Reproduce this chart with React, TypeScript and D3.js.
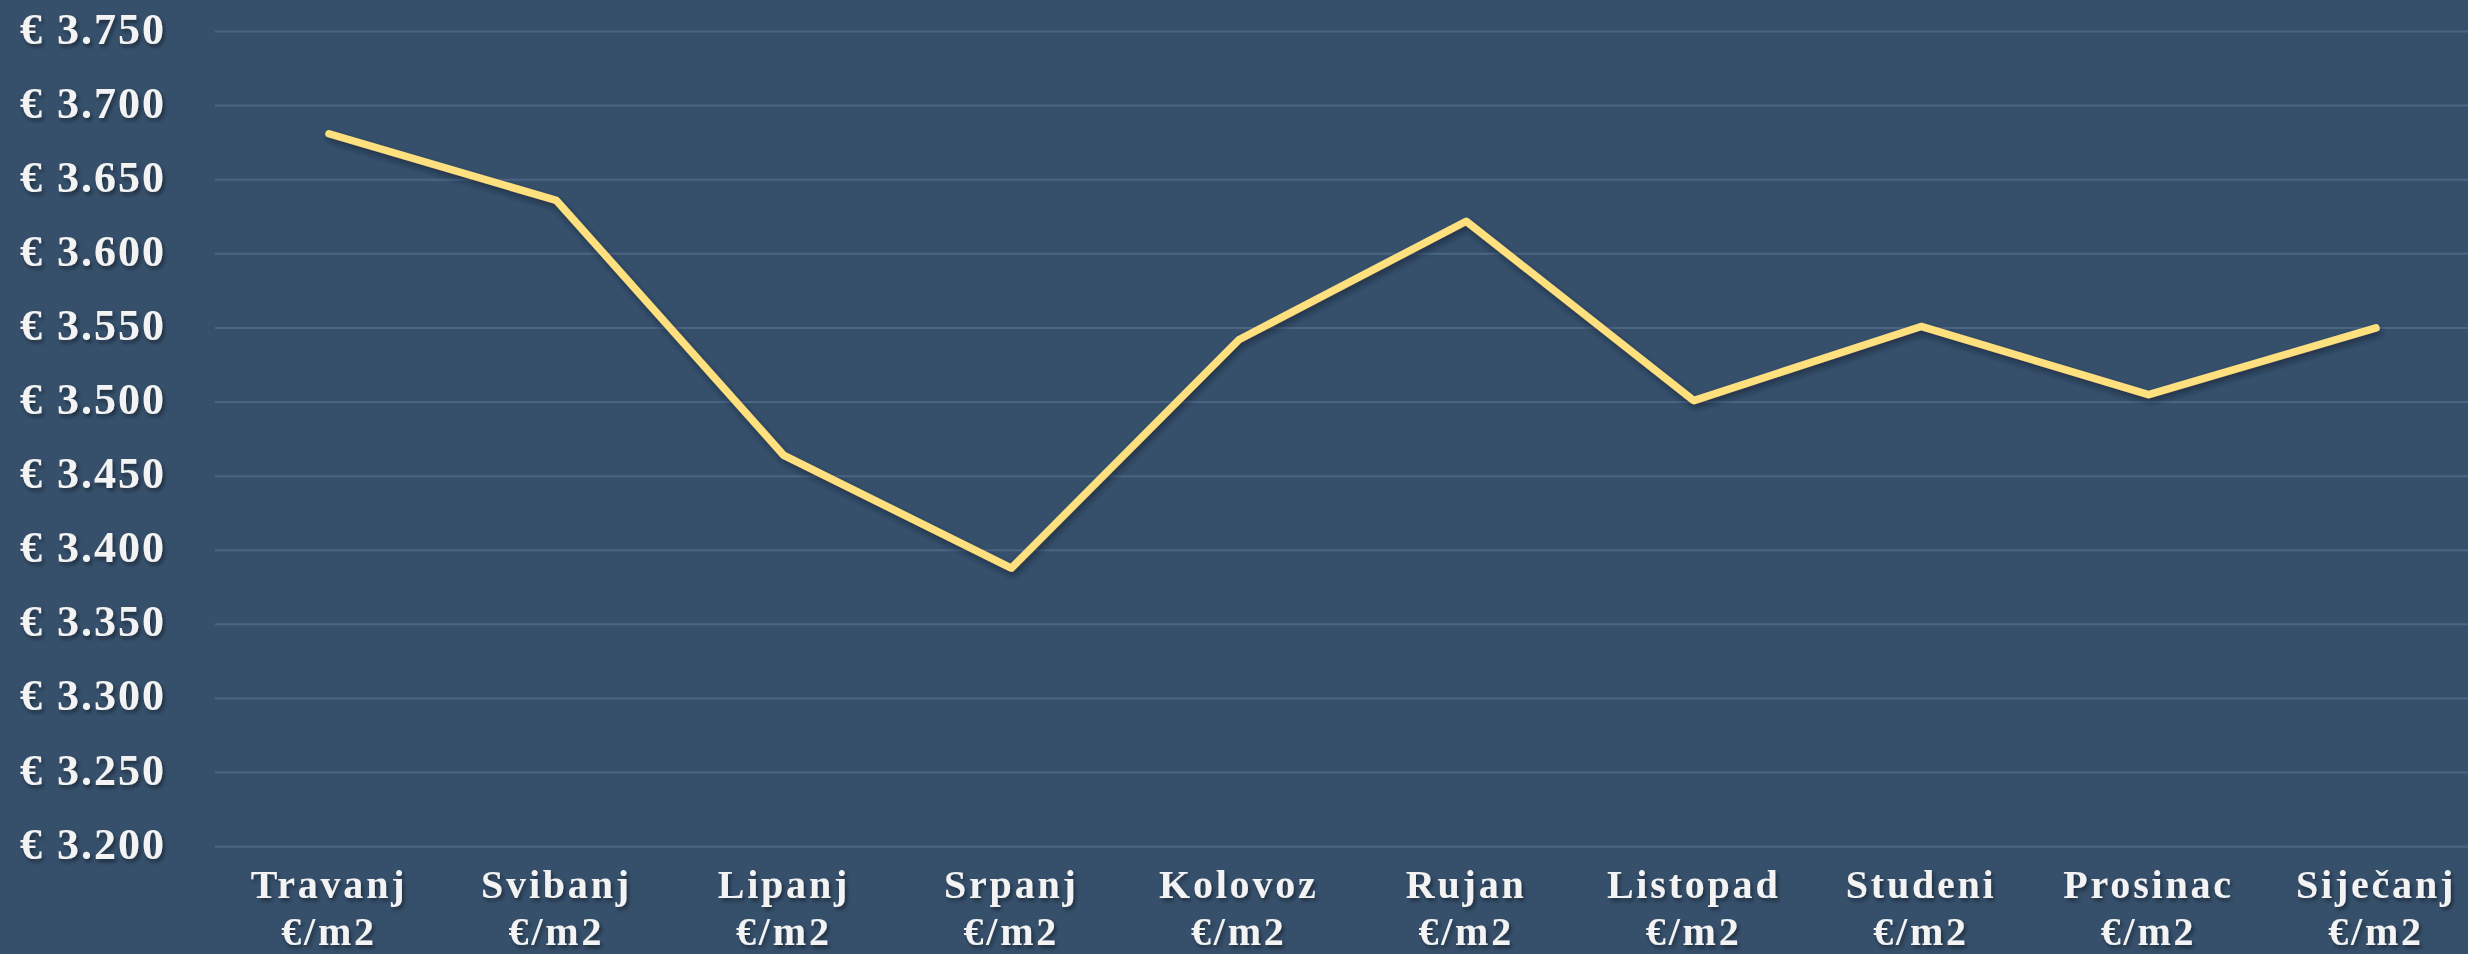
import React from "react";
import * as d3 from "d3";

const months = ["Travanj", "Svibanj", "Lipanj", "Srpanj", "Kolovoz", "Rujan", "Listopad", "Studeni", "Prosinac", "Siječanj"];
const unitLabel = "€/m2";
const prices = [3681, 3636, 3464, 3388, 3542, 3622, 3501, 3551, 3505, 3550];
const yTicks = [3200, 3250, 3300, 3350, 3400, 3450, 3500, 3550, 3600, 3650, 3700, 3750];

const W = 2468;
const H = 954;

const fmt = (v: number) => "€ " + d3.format(",.3f")(v / 1000).replace(",", "");

export default function App() {
  const x = d3.scalePoint<string>().domain(months).range([329, 2376]);
  const y = d3.scaleLinear().domain([3200, 3750]).range([846.7, 31.5]);
  const line = d3
    .line<number>()
    .x((_, i) => x(months[i]) as number)
    .y((d) => y(d));
  const font = "'Liberation Serif', 'Times New Roman', serif";
  return (
    <svg
      width={W}
      height={H}
      style={{ position: "absolute", left: 0, top: 0, display: "block" }}
    >
      <defs>
        <filter id="sh" x="-20%" y="-20%" width="140%" height="160%">
          <feDropShadow dx="2" dy="3" stdDeviation="2" floodColor="#000" floodOpacity="0.45" />
        </filter>
        <filter id="lsh" x="-5%" y="-20%" width="110%" height="140%">
          <feDropShadow dx="2" dy="4" stdDeviation="3" floodColor="#0b1a2b" floodOpacity="0.6" />
        </filter>
      </defs>
      <rect x={0} y={0} width={W} height={H} fill="#36506c" />
      {yTicks.map((t) => (
        <line key={t} x1={215} x2={W} y1={y(t)} y2={y(t)} stroke="#4b6583" strokeWidth={2} />
      ))}
      <g filter="url(#sh)" fill="#f3f3f3" fontFamily={font} fontWeight={700}>
        {yTicks.map((t) => (
          <text key={t} x={166} y={y(t) + 12} textAnchor="end" fontSize={44} letterSpacing={2}>
            {fmt(t)}
          </text>
        ))}
        {months.map((m) => (
          <g key={m}>
            <text x={x(m) as number} y={898} textAnchor="middle" fontSize={40} letterSpacing={2.8}>
              {m}
            </text>
            <text x={x(m) as number} y={945} textAnchor="middle" fontSize={40} letterSpacing={2.8}>
              {unitLabel}
            </text>
          </g>
        ))}
      </g>
      <path
        d={line(prices) || ""}
        fill="none"
        stroke="#ffe07e"
        strokeWidth={7.5}
        strokeLinecap="round"
        strokeLinejoin="round"
        filter="url(#lsh)"
      />
    </svg>
  );
}
